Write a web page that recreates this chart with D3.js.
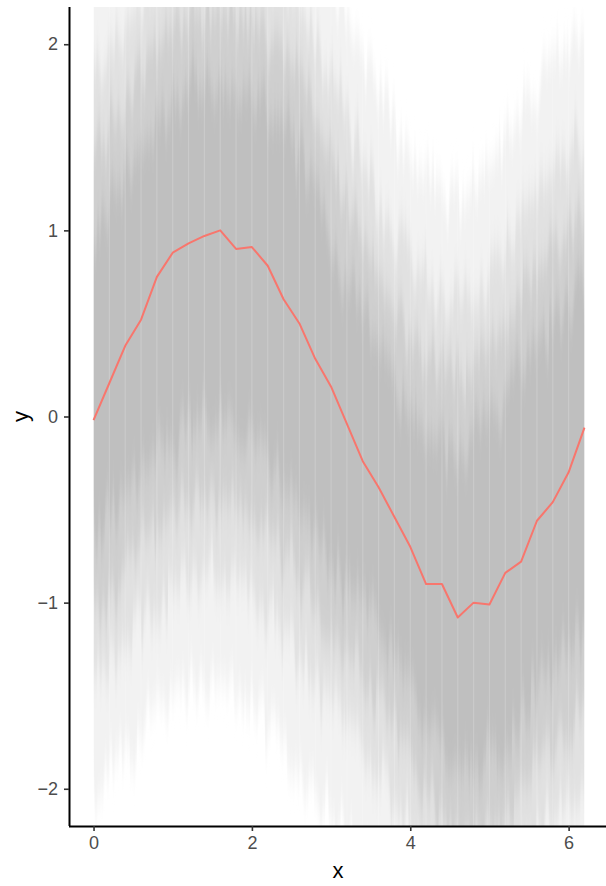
<!DOCTYPE html>
<html>
<head>
<meta charset="utf-8">
<script src="https://cdn.jsdelivr.net/npm/d3@7"></script>
<style>
  html, body { margin: 0; padding: 0; background: #fff; }
  svg { display: block; }
  text { font-family: "Liberation Sans", Arial, Helvetica, sans-serif; }
</style>
</head>
<body>
<svg id="chart" width="606" height="886"></svg>
<script>
// ---- data ----
const xs = [0,0.2,0.4,0.6,0.8,1.0,1.2,1.4,1.6,1.8,2.0,2.2,2.4,2.6,2.8,3.0,3.2,3.4,3.6,3.8,4.0,4.2,4.4,4.6,4.8,5.0,5.2,5.4,5.6,5.8,6.0,6.2];
const meanY = [-0.02,0.18,0.38,0.52,0.75,0.88,0.93,0.97,1.00,0.90,0.91,0.81,0.63,0.50,0.31,0.16,-0.04,-0.24,-0.38,-0.54,-0.70,-0.90,-0.90,-1.08,-1.00,-1.01,-0.84,-0.78,-0.56,-0.46,-0.30,-0.06];

// envelope of the many grey simulation lines (density levels)
const coreHi  = [1.05,1.15,1.30,1.45,1.58,1.68,1.75,1.78,1.80,1.78,1.74,1.66,1.55,1.42,1.25,1.02,0.78,0.58,0.38,0.20,0.05,-0.06,-0.12,-0.15,-0.12,-0.02,0.12,0.28,0.42,0.52,0.62,0.70];
const coreLo  = [-0.60,-0.52,-0.42,-0.30,-0.20,-0.12,-0.07,-0.04,-0.04,-0.08,-0.14,-0.24,-0.36,-0.50,-0.64,-0.76,-0.86,-0.98,-1.12,-1.28,-1.45,-1.62,-1.76,-1.86,-1.88,-1.84,-1.74,-1.60,-1.46,-1.34,-1.26,-1.18];
const midHi   = [1.45,1.55,1.70,1.85,1.98,2.08,2.15,2.18,2.20,2.18,2.14,2.06,1.95,1.82,1.65,1.42,1.18,0.98,0.78,0.60,0.45,0.34,0.28,0.25,0.28,0.38,0.52,0.68,0.82,0.92,1.02,1.10];
const midLo   = [-1.00,-0.92,-0.82,-0.70,-0.60,-0.52,-0.47,-0.44,-0.44,-0.48,-0.54,-0.64,-0.76,-0.90,-1.04,-1.16,-1.26,-1.38,-1.52,-1.68,-1.85,-2.02,-2.16,-2.26,-2.28,-2.24,-2.14,-2.00,-1.86,-1.74,-1.66,-1.58];
const outerHi = [1.85,1.95,2.10,2.25,2.38,2.48,2.55,2.58,2.60,2.58,2.54,2.46,2.35,2.22,2.05,1.82,1.58,1.38,1.18,1.00,0.85,0.74,0.68,0.65,0.68,0.78,0.92,1.08,1.22,1.32,1.42,1.50];
const outerLo = [-1.40,-1.32,-1.22,-1.10,-1.00,-0.92,-0.87,-0.84,-0.84,-0.88,-0.94,-1.04,-1.16,-1.30,-1.44,-1.56,-1.66,-1.78,-1.92,-2.08,-2.25,-2.42,-2.56,-2.66,-2.68,-2.64,-2.54,-2.40,-2.26,-2.14,-2.06,-1.98];
const faintHi = [2.40,2.50,2.60,2.70,2.80,2.90,3.00,3.00,3.00,3.00,3.00,2.90,2.80,2.70,2.60,2.40,2.15,1.95,1.75,1.55,1.40,1.30,1.25,1.20,1.25,1.35,1.50,1.65,1.80,1.90,2.00,2.10];
const faintLo = [-2.00,-1.92,-1.82,-1.70,-1.60,-1.52,-1.47,-1.44,-1.44,-1.48,-1.54,-1.64,-1.76,-1.90,-2.04,-2.16,-2.26,-2.38,-2.52,-2.68,-2.85,-3.00,-3.00,-3.00,-3.00,-3.00,-3.00,-3.00,-2.86,-2.74,-2.66,-2.58];

const xTicks = [0, 2, 4, 6];
const yTicks = [-2, -1, 0, 1, 2];
const xTitle = "x";
const yTitle = "y";

// ---- layout ----
const svg = d3.select("#chart");
const mLeft = 69, mRight = 609, mTop = 7, mBottom = 826;

const x = d3.scaleLinear().domain([-0.31, 6.51]).range([mLeft, mRight]);
const y = d3.scaleLinear().domain([-2.2, 2.2]).range([mBottom, mTop]);

const defs = svg.append("defs");
defs.append("clipPath").attr("id", "panel")
  .append("rect").attr("x", mLeft).attr("y", mTop).attr("width", mRight - mLeft).attr("height", mBottom - mTop);
defs.append("clipPath").attr("id", "dataRange")
  .append("rect").attr("x", x(xs[0])).attr("y", mTop)
  .attr("width", x(xs[xs.length - 1]) - x(xs[0])).attr("height", mBottom - mTop);

// texture: soft vertical streaks like the overplotted translucent lines
const f = defs.append("filter").attr("id", "streaks")
  .attr("filterUnits", "userSpaceOnUse")
  .attr("x", 0).attr("y", -300).attr("width", 700).attr("height", 1500);
f.append("feTurbulence").attr("type", "fractalNoise").attr("baseFrequency", "0.2 0.006")
  .attr("numOctaves", 2).attr("seed", 7).attr("result", "noise");
f.append("feColorMatrix").attr("in", "noise").attr("type", "matrix")
  .attr("values", "0 0 0 0 0.5  1 0 0 0 0  0 0 0 0 0  0 0 0 0 1").attr("result", "dmap");
f.append("feDisplacementMap").attr("in", "SourceGraphic").attr("in2", "dmap").attr("scale", 110)
  .attr("xChannelSelector", "R").attr("yChannelSelector", "G").attr("result", "disp");
f.append("feGaussianBlur").attr("in", "disp").attr("stdDeviation", "0.6 16");

const panel = svg.append("g").attr("clip-path", "url(#panel)");
const bandsClip = panel.append("g").attr("clip-path", "url(#dataRange)");
const bands = bandsClip.append("g").attr("filter", "url(#streaks)");

const levels = [
  {hi: faintHi, lo: faintLo, color: "#f2f2f2"},
  {hi: outerHi, lo: outerLo, color: "#e1e1e1"},
  {hi: midHi,   lo: midLo,   color: "#cfcfcf"},
  {hi: coreHi,  lo: coreLo,  color: "#bfbfbf"}
];
levels.forEach(lv => {
  const pts = xs.map((xv, i) => ({x: xv, hi: lv.hi[i], lo: lv.lo[i]}));
  bands.append("path")
    .datum(pts)
    .attr("fill", lv.color)
    .attr("d", d3.area().x(d => x(d.x)).y0(d => y(d.lo)).y1(d => y(d.hi)).curve(d3.curveMonotoneX));
});

// faint light seams at each sampled x (line vertices)
bandsClip.selectAll("line.seam").data(xs.slice(1, -1)).join("line")
  .attr("class", "seam")
  .attr("x1", d => x(d)).attr("x2", d => x(d))
  .attr("y1", mTop).attr("y2", mBottom)
  .attr("stroke", "#ffffff").attr("stroke-opacity", 0.18).attr("stroke-width", 1.2);

// mean line
panel.append("path")
  .datum(xs.map((xv, i) => ({x: xv, y: meanY[i]})))
  .attr("fill", "none")
  .attr("stroke", "#F8766D")
  .attr("stroke-width", 2)
  .attr("stroke-linejoin", "round")
  .attr("d", d3.line().x(d => x(d.x)).y(d => y(d.y)));

// axes
const xAxis = d3.axisBottom(x).tickValues(xTicks).tickSize(5).tickPadding(5).tickFormat(d3.format("d"));
const yAxis = d3.axisLeft(y).tickValues(yTicks).tickSize(5).tickPadding(6)
  .tickFormat(d => d < 0 ? "\u2212" + Math.abs(d) : String(d));

const gx = svg.append("g").attr("transform", `translate(0,${mBottom})`).call(xAxis);
const gy = svg.append("g").attr("transform", `translate(${mLeft},0)`).call(yAxis);

[gx, gy].forEach(g => {
  g.select(".domain").attr("stroke", "#000").attr("stroke-width", 2);
  g.selectAll(".tick line").attr("stroke", "#333").attr("stroke-width", 1.6);
  g.selectAll(".tick text").attr("fill", "#4d4d4d").style("font-size", "18px")
    .style("font-family", "'Liberation Sans', Arial, sans-serif");
});
gx.select(".domain").attr("d", `M${mLeft},0.5H606`);
gy.select(".domain").attr("d", `M0.5,${mTop}V${mBottom}`);

svg.append("text").attr("x", 338).attr("y", 878).attr("text-anchor", "middle")
  .style("font-size", "22px").attr("fill", "#000").text(xTitle);
svg.append("text").attr("transform", `translate(28,${y(0)}) rotate(-90)`).attr("text-anchor", "middle")
  .style("font-size", "22px").attr("fill", "#000").text(yTitle);
</script>
</body>
</html>
